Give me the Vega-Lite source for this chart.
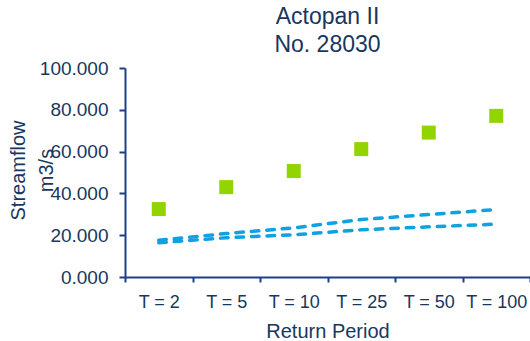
{
  "$schema": "https://vega.github.io/schema/vega-lite/v6.json",
  "autosize": {"type": "none"},
  "width": 405,
  "height": 209,
  "padding": {"left": 125, "top": 68, "right": 0, "bottom": 64},
  "background": "white",
  "config": {
    "view": {"stroke": null},
    "font": "Liberation Sans"
  },
  "title": {
    "text": ["Actopan II", "No. 28030"],
    "fontSize": 23,
    "fontWeight": "normal",
    "color": "#17375E",
    "lineHeight": 28,
    "anchor": "middle",
    "frame": "group",
    "offset": 2
  },
  "data": {
    "values": [
      {"period": "T = 2", "series": "Observed", "value": 32.5},
      {"period": "T = 5", "series": "Observed", "value": 43.0},
      {"period": "T = 10", "series": "Observed", "value": 50.7},
      {"period": "T = 25", "series": "Observed", "value": 61.2},
      {"period": "T = 50", "series": "Observed", "value": 69.1},
      {"period": "T = 100", "series": "Observed", "value": 77.1},
      {"period": "T = 2", "series": "Upper", "value": 17.6},
      {"period": "T = 5", "series": "Upper", "value": 20.8},
      {"period": "T = 10", "series": "Upper", "value": 23.5},
      {"period": "T = 25", "series": "Upper", "value": 27.5},
      {"period": "T = 50", "series": "Upper", "value": 29.9},
      {"period": "T = 100", "series": "Upper", "value": 32.3},
      {"period": "T = 2", "series": "Lower", "value": 16.4},
      {"period": "T = 5", "series": "Lower", "value": 18.8},
      {"period": "T = 10", "series": "Lower", "value": 20.2},
      {"period": "T = 25", "series": "Lower", "value": 22.6},
      {"period": "T = 50", "series": "Lower", "value": 24.0},
      {"period": "T = 100", "series": "Lower", "value": 25.3}
    ]
  },
  "encoding": {
    "x": {
      "field": "period",
      "type": "nominal",
      "sort": ["T = 2", "T = 5", "T = 10", "T = 25", "T = 50", "T = 100"],
      "scale": {"type": "band", "paddingInner": 0, "paddingOuter": 0},
      "axis": {
        "title": "Return Period",
        "titleFontSize": 20,
        "titleFontWeight": "normal",
        "titleColor": "#17375E",
        "titleBaseline": "alphabetic",
        "titleY": 60,
        "labelAngle": 0,
        "labelFontSize": 18,
        "labelColor": "#17375E",
        "labelPadding": 11,
        "tickBand": "extent",
        "tickSize": 5,
        "tickWidth": 2,
        "tickColor": "#1F3F86",
        "domainColor": "#1F3F86",
        "domainWidth": 2,
        "grid": false
      }
    },
    "y": {
      "field": "value",
      "type": "quantitative",
      "scale": {"domain": [0, 100], "nice": false},
      "axis": {
        "title": ["Streamflow", "m3/s"],
        "titleFontSize": 20,
        "titleFontWeight": "normal",
        "titleColor": "#17375E",
        "titleLineHeight": 28,
        "titleAngle": -90,
        "titleAlign": "center",
        "titleBaseline": "alphabetic",
        "titleX": -101,
        "titleY": 102,
        "values": [0, 20, 40, 60, 80, 100],
        "format": ".3f",
        "labelFontSize": 19,
        "labelColor": "#17375E",
        "labelPadding": 11,
        "tickSize": 6,
        "tickWidth": 2,
        "tickColor": "#1F3F86",
        "domainColor": "#1F3F86",
        "domainWidth": 2,
        "grid": false
      }
    }
  },
  "layer": [
    {
      "transform": [{"filter": "datum.series !== 'Observed'"}],
      "mark": {"type": "line", "strokeWidth": 3.5, "strokeDash": [7.5, 8], "strokeCap": "round", "color": "#0EA2E0"},
      "encoding": {
        "detail": {"field": "series", "type": "nominal"}
      }
    },
    {
      "transform": [{"filter": "datum.series === 'Observed'"}],
      "mark": {"type": "square", "size": 196, "filled": true, "opacity": 1, "color": "#92D400"}
    }
  ]
}
